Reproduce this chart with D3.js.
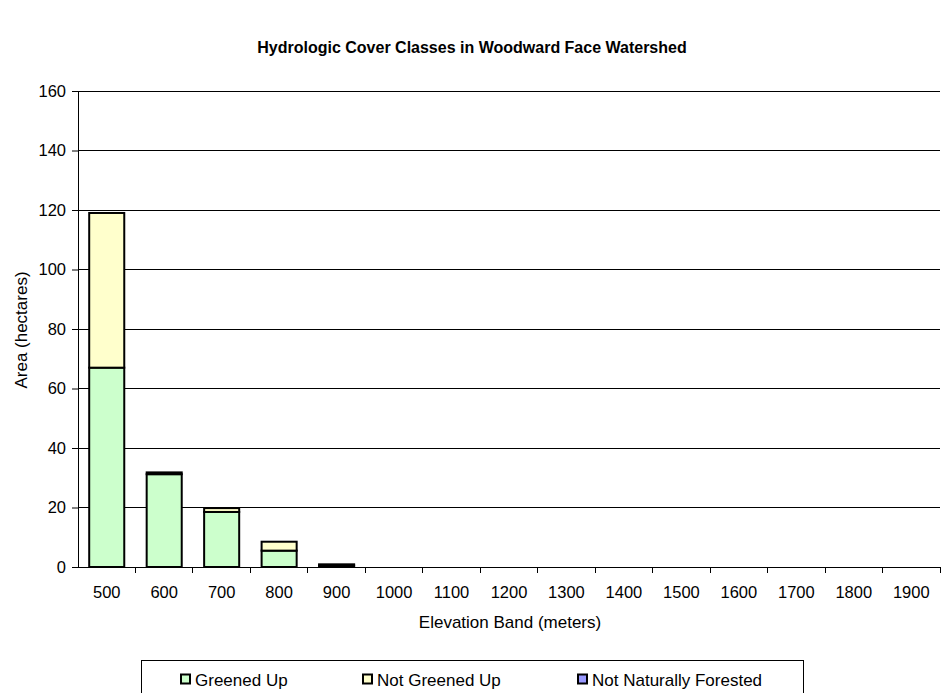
<!DOCTYPE html>
<html><head><meta charset="utf-8">
<script src="https://cdn.jsdelivr.net/npm/d3@7/dist/d3.min.js"></script>
<style>body{margin:0;background:#fff}svg{font-family:"Liberation Sans",Arial,sans-serif}</style>
</head><body><svg id="c" width="945" height="693"></svg>
<script>
const categories = ["500","600","700","800","900","1000","1100","1200","1300","1400","1500","1600","1700","1800","1900"];
const greenedUp = [67, 31.2, 18.5, 5.5, 0.5, 0, 0, 0, 0, 0, 0, 0, 0, 0, 0];
const notGreenedUp = [52, 0.6, 1.3, 3, 0.4, 0, 0, 0, 0, 0, 0, 0, 0, 0, 0];
const notNaturallyForested = [0, 0, 0, 0, 0, 0, 0, 0, 0, 0, 0, 0, 0, 0, 0];
const seriesNames = ["Greened Up", "Not Greened Up", "Not Naturally Forested"];
const colors = ["#ccffcc", "#ffffcc", "#9999ff"];
const yTicks = [0,20,40,60,80,100,120,140,160];

const svg = d3.select("#c");
const m = {l:78, r:940, t:91, b:567};
const x = d3.scaleBand().domain(categories).range([m.l, m.r]).paddingInner(0.39).paddingOuter(0.195);
const y = d3.scaleLinear().domain([0,160]).range([m.b, m.t]);

svg.append("text").attr("x", 472).attr("y", 53).attr("text-anchor","middle")
  .style("font-weight","bold").style("font-size","16px").text("Hydrologic Cover Classes in Woodward Face Watershed");

// gridlines
svg.append("g").selectAll("line").data(yTicks.filter(d=>d>0)).join("line")
  .attr("x1", m.l).attr("x2", m.r).attr("y1", d=>y(d)).attr("y2", d=>y(d))
  .attr("stroke","#000").attr("stroke-width",1).attr("shape-rendering","crispEdges");

const data = categories.map((c,i)=>({c, vals:[greenedUp[i], notGreenedUp[i], notNaturallyForested[i]]}));
const stack = d3.stack().keys([0,1,2]).value((d,k)=>d.vals[k]);
const stacked = stack(data);
stacked.forEach((s,k)=>{
  svg.append("g").selectAll("rect").data(s.filter(d=>d[1]-d[0]>0)).join("rect")
    .attr("x", d=>x(d.data.c)).attr("width", x.bandwidth())
    .attr("y", d=>y(d[1])).attr("height", d=>y(d[0])-y(d[1]))
    .attr("fill", colors[k]).attr("stroke","#000").attr("stroke-width",2);
});

// axes
const yAxis = svg.append("g").attr("transform",`translate(${m.l},0)`)
  .call(d3.axisLeft(y).tickValues(yTicks).tickSize(6).tickPadding(6));
yAxis.select(".domain").remove();
yAxis.selectAll("text").style("font-size","16.5px").style("fill","#000").attr("font-family",null);
svg.append("line").attr("x1",m.l).attr("x2",m.l).attr("y1",m.t).attr("y2",m.b+0.5).attr("stroke","#000").attr("shape-rendering","crispEdges");

const xg = svg.append("g").attr("transform",`translate(0,${m.b})`);
xg.append("line").attr("x1",m.l).attr("x2",m.r).attr("stroke","#000").attr("shape-rendering","crispEdges");
const bounds = categories.map((c,i)=>m.l + (i+1)*(m.r-m.l)/categories.length);
xg.selectAll("line.t").data(bounds).join("line").attr("class","t")
  .attr("x1",d=>d).attr("x2",d=>d).attr("y1",0).attr("y2",6).attr("stroke","#000").attr("shape-rendering","crispEdges");
xg.selectAll("text").data(categories).join("text")
  .attr("x", d=>x(d)+x.bandwidth()/2).attr("y", 31).attr("text-anchor","middle")
  .style("font-size","16.5px").text(d=>d);

svg.append("text").attr("x", 510).attr("y", 628).attr("text-anchor","middle").style("font-size","17px").text("Elevation Band (meters)");
svg.append("text").attr("transform","translate(27,330) rotate(-90)").attr("text-anchor","middle").style("font-size","17px").text("Area (hectares)");

// legend
svg.append("rect").attr("x",141.5).attr("y",660.5).attr("width",662).attr("height",40)
  .attr("fill","#fff").attr("stroke","#000").attr("stroke-width",1);
const lx = [180, 362, 577];
seriesNames.forEach((n,i)=>{
  svg.append("rect").attr("x",lx[i]+1).attr("y",674.5).attr("width",9).attr("height",9)
    .attr("fill",colors[i]).attr("stroke","#000").attr("stroke-width",2);
  svg.append("text").attr("x",lx[i]+15).attr("y",686).style("font-size","17px").text(n);
});
</script></body></html>
